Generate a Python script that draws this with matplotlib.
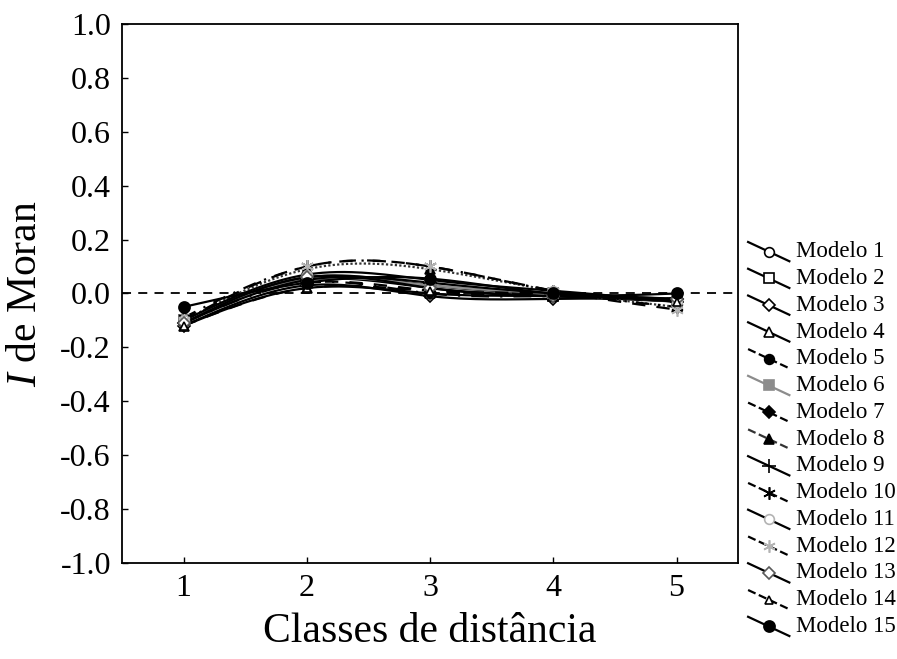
import numpy as np
import matplotlib
matplotlib.use("Agg")
import matplotlib.pyplot as plt
from matplotlib.lines import Line2D
from matplotlib.legend_handler import HandlerLine2D

plt.rcParams['font.family'] = ['Liberation Serif', 'DejaVu Serif']
plt.rcParams['mathtext.fontset'] = 'custom'
plt.rcParams['mathtext.it'] = 'Liberation Serif:italic'

classes = [1, 2, 3, 4, 5]
modelo_1 = [-0.11, 0.06, 0.03, 0.00, -0.02]
modelo_2 = [-0.10, 0.05, 0.02, -0.01, -0.03]
modelo_3 = [-0.12, 0.03, -0.01, -0.02, -0.02]
modelo_4 = [-0.12, 0.02, 0.00, -0.01, -0.03]
modelo_5 = [-0.09, 0.04, 0.01, -0.01, -0.02]
modelo_6 = [-0.10, 0.05, 0.03, 0.00, -0.03]
modelo_7 = [-0.11, 0.04, 0.00, -0.01, -0.02]
modelo_8 = [-0.10, 0.09, 0.09, 0.01, -0.05]
modelo_9 = [-0.11, 0.05, 0.04, 0.00, -0.03]
modelo_10 = [-0.09, 0.10, 0.10, 0.01, -0.05]
modelo_11 = [-0.10, 0.07, 0.05, 0.01, -0.03]
modelo_12 = [-0.10, 0.10, 0.10, 0.01, -0.06]
modelo_13 = [-0.11, 0.06, 0.02, -0.01, -0.02]
modelo_14 = [-0.12, 0.02, 0.01, 0.00, -0.03]
modelo_15 = [-0.05, 0.04, 0.055, 0.00, 0.00]

series = [modelo_1, modelo_2, modelo_3, modelo_4, modelo_5, modelo_6, modelo_7,
          modelo_8, modelo_9, modelo_10, modelo_11, modelo_12, modelo_13,
          modelo_14, modelo_15]
labels = ['Modelo %d' % (i + 1) for i in range(15)]
yticks = [-1.0, -0.8, -0.6, -0.4, -0.2, 0.0, 0.2, 0.4, 0.6, 0.8, 1.0]

asterisk = (6, 2, 0)
# (linestyle, line colour, marker, marker face, marker edge, marker size)
styles = [
    ('-', 'k', 'o', 'white', 'k', 7),
    ('-', 'k', 's', 'white', 'k', 7),
    ('-', 'k', 'D', 'white', 'k', 6),
    ('-', 'k', '^', 'white', 'k', 7),
    ((0, (6, 5)), 'k', 'o', 'k', 'k', 7),
    ('-', '0.55', 's', '0.55', '0.55', 7),
    ((0, (8, 5, 1, 5)), 'k', 'D', 'k', 'k', 6),
    ((0, (1, 1)), '0.2', '^', 'k', 'k', 7),
    ('-', 'k', '+', 'k', 'k', 10),
    ((0, (6, 4, 1, 4)), 'k', asterisk, 'k', 'k', 9),
    ('-', 'k', 'o', 'white', '0.7', 7),
    ((0, (6, 5)), 'k', asterisk, '0.7', '0.7', 9),
    ('-', 'k', 'D', 'white', '0.35', 6),
    ((0, (6, 5)), 'k', '^', 'white', 'k', 6),
    ('-', 'k', 'o', 'k', 'k', 8),
]


def natural_spline(x, y, n=200):
    x = np.asarray(x, float)
    y = np.asarray(y, float)
    k = len(x)
    h = np.diff(x)
    A = np.zeros((k, k))
    b = np.zeros(k)
    A[0, 0] = A[-1, -1] = 1
    for i in range(1, k - 1):
        A[i, i - 1] = h[i - 1]
        A[i, i] = 2 * (h[i - 1] + h[i])
        A[i, i + 1] = h[i]
        b[i] = 6 * ((y[i + 1] - y[i]) / h[i] - (y[i] - y[i - 1]) / h[i - 1])
    M = np.linalg.solve(A, b)
    xs = np.linspace(x[0], x[-1], n)
    idx = np.clip(np.searchsorted(x, xs) - 1, 0, k - 2)
    x0, x1 = x[idx], x[idx + 1]
    hh = x1 - x0
    t0, t1 = x1 - xs, xs - x0
    ys = (M[idx] * t0 ** 3 + M[idx + 1] * t1 ** 3) / (6 * hh) \
        + (y[idx] / hh - M[idx] * hh / 6) * t0 \
        + (y[idx + 1] / hh - M[idx + 1] * hh / 6) * t1
    return xs, ys


class DiagonalHandler(HandlerLine2D):
    # legend key drawn as a falling diagonal with the marker in the middle
    def create_artists(self, legend, orig_handle, xdescent, ydescent,
                       width, height, fontsize, trans):
        x0, x1 = -xdescent, width - xdescent
        y0, y1 = height * 0.95 - ydescent, -height * 0.25 - ydescent
        line = Line2D([x0, x1], [y0, y1], color=orig_handle.get_color(),
                      linestyle=orig_handle.get_linestyle(),
                      linewidth=orig_handle.get_linewidth())
        mk = Line2D([(x0 + x1) / 2], [(y0 + y1) / 2], linestyle='none',
                    marker=orig_handle.get_marker(),
                    markersize=orig_handle.get_markersize(),
                    markerfacecolor=orig_handle.get_markerfacecolor(),
                    markeredgecolor=orig_handle.get_markeredgecolor(),
                    markeredgewidth=orig_handle.get_markeredgewidth())
        line.set_transform(trans)
        mk.set_transform(trans)
        return [line, mk]


fig = plt.figure(figsize=(8.97, 6.59), dpi=100)
ax = fig.add_axes([0.136, 0.1457, 0.687, 0.818])

ax.axhline(0, color='k', linestyle=(0, (5, 4)), linewidth=1.3, zorder=1)

handles = []
for vals, st, lab in zip(series, styles, labels):
    ls, col, mk, mfc, mec, ms = st
    xs, ys = natural_spline(classes, vals)
    ax.plot(xs, ys, color=col, linestyle=ls, linewidth=1.6, zorder=2)
    ax.plot(classes, vals, linestyle='none', marker=mk, markersize=ms,
            markerfacecolor=mfc, markeredgecolor=mec, markeredgewidth=1.2,
            zorder=3)
    handles.append(Line2D([], [], color=col, linestyle=ls, linewidth=1.6,
                          marker=mk, markersize=ms, markerfacecolor=mfc,
                          markeredgecolor=mec, markeredgewidth=1.2, label=lab))

ax.set_xlim(0.5, 5.5)
ax.set_ylim(-1.0, 1.0)
ax.set_xticks(classes)
ax.set_yticks(yticks)
ax.set_yticklabels(['%.1f' % abs(v) if v == 0 else '%.1f' % v for v in yticks])
ax.tick_params(direction='in', length=4, width=1, labelsize=23, pad=8)
for s in ax.spines.values():
    s.set_linewidth(1.3)

ax.set_xlabel('Classes de distância', fontsize=30, labelpad=7)
ax.set_ylabel('$I$ de Moran', fontsize=30, labelpad=11)

fig.legend(handles=handles, loc='upper left', bbox_to_anchor=(0.834, 0.634),
           frameon=False, fontsize=16.5, handlelength=1.8, handletextpad=0.3,
           labelspacing=0.25, borderpad=0, borderaxespad=0,
           handler_map={Line2D: DiagonalHandler()})

fig.savefig('out.png', dpi=100)
